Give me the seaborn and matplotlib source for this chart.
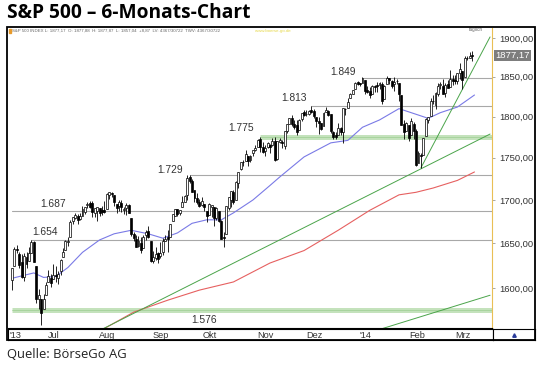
import matplotlib
matplotlib.use("Agg")
import matplotlib.pyplot as plt
from matplotlib.patches import Rectangle
from matplotlib.ticker import FixedLocator, NullLocator
import numpy as np
import pandas as pd
import seaborn as sns

# trading calendar (NYSE sessions)
first_day = "2013-06-06"
last_day = "2014-03-07"
holidays = ["2013-07-04", "2013-09-02", "2013-11-28", "2013-12-25",
            "2014-01-01", "2014-01-20", "2014-02-17"]

# daily candles
opens = [
    1609.0, 1625.0, 1644.0, 1638.0, 1629.0, 1613.0, 1635.0, 1630.0, 1639.8, 1651.8, 1624.6, 1588.6, 1588.8, 1577.5, 1592.3, 1606.4, 1611.1,
    1609.8, 1614.3, 1611.5, 1618.7, 1634.2, 1642.9, 1651.6, 1657.4, 1675.3, 1679.6, 1681.0, 1677.9, 1681.1, 1686.2, 1694.4, 1696.1, 1696.1, 1685.2, 1687.3, 1690.3, 1687.9, 1687.8,
    1689.4, 1706.1, 1708.0, 1705.8, 1695.3, 1693.4, 1696.1, 1688.4, 1690.7, 1693.9, 1679.6, 1661.2, 1655.3, 1646.8, 1650.7, 1645.0, 1659.9, 1664.3, 1652.5, 1630.3, 1633.5, 1638.9,
    1635.9, 1640.7, 1653.3, 1657.4, 1656.9, 1675.1, 1681.0, 1689.2, 1685.0, 1691.7, 1697.7, 1705.7, 1727.3, 1722.4, 1711.4, 1702.6, 1698.0, 1694.1, 1695.5, 1687.3,
    1682.4, 1691.9, 1692.4, 1678.8, 1687.1, 1676.2, 1657.0, 1660.9, 1691.1, 1699.9, 1709.2, 1700.5, 1720.2, 1736.7, 1745.2, 1746.5, 1752.3, 1747.5, 1756.0, 1759.4, 1762.8, 1772.3, 1763.2,
    1758.7, 1763.4, 1765.7, 1765.0, 1770.7, 1748.4, 1769.6, 1769.3, 1764.4, 1782.8, 1790.7, 1798.8, 1790.8, 1789.6, 1783.5, 1797.2, 1806.3, 1802.9, 1803.5, 1808.0,
    1806.6, 1800.1, 1794.1, 1792.8, 1788.4, 1806.2, 1807.5, 1802.8, 1781.7, 1778.0, 1777.5, 1786.5, 1781.5, 1809.0, 1810.4, 1822.9, 1828.0, 1835.0, 1843.0, 1841.5, 1842.6,
    1845.9, 1833.2, 1832.3, 1828.7, 1837.9, 1839.0, 1840.1, 1841.3, 1821.4, 1840.5, 1848.0, 1844.2, 1841.1, 1844.7, 1842.3, 1827.0, 1791.0, 1783.0, 1790.2, 1777.2, 1790.9,
    1782.7, 1743.8, 1753.4, 1753.0, 1776.0, 1796.2, 1800.5, 1820.1, 1814.8, 1828.5, 1839.0, 1838.2, 1829.2, 1841.1, 1836.8, 1847.7, 1845.8, 1844.9, 1855.1,
    1857.7, 1849.2, 1874.1, 1874.2, 1878.5,
]
highs = [
    1622.7, 1645.6, 1648.7, 1640.4, 1637.7, 1639.3, 1640.8, 1646.5, 1654.2, 1652.5, 1624.6, 1599.2, 1588.8, 1593.8, 1606.8, 1620.1, 1615.9,
    1626.6, 1624.3, 1618.9, 1632.1, 1644.7, 1654.2, 1657.9, 1676.6, 1680.2, 1684.5, 1683.7, 1684.8, 1693.1, 1692.1, 1697.6, 1698.4, 1698.4, 1690.9, 1691.9, 1690.9, 1693.2, 1698.4,
    1707.9, 1709.7, 1709.2, 1705.8, 1695.3, 1700.2, 1699.4, 1691.5, 1696.8, 1695.5, 1679.6, 1663.6, 1659.2, 1658.9, 1656.9, 1659.6, 1664.9, 1669.5, 1652.5, 1641.2, 1646.4, 1640.1,
    1651.4, 1655.7, 1659.2, 1664.8, 1672.4, 1684.1, 1689.1, 1689.9, 1688.7, 1704.9, 1705.5, 1729.4, 1729.9, 1725.2, 1711.4, 1707.6, 1701.7, 1703.9, 1695.5, 1687.3,
    1696.6, 1693.9, 1692.4, 1691.9, 1687.1, 1676.8, 1662.5, 1692.6, 1703.4, 1711.0, 1711.6, 1721.8, 1733.5, 1745.3, 1747.8, 1759.3, 1752.3, 1753.9, 1759.8, 1765.0, 1772.1, 1775.2, 1768.5,
    1765.7, 1768.8, 1767.0, 1773.7, 1774.5, 1770.8, 1773.4, 1771.8, 1782.0, 1791.0, 1798.2, 1802.3, 1795.5, 1795.7, 1797.2, 1804.8, 1808.1, 1808.4, 1808.8, 1813.6,
    1810.0, 1800.1, 1799.8, 1792.8, 1806.0, 1811.5, 1808.5, 1803.0, 1783.0, 1780.9, 1792.2, 1786.8, 1811.1, 1810.9, 1823.8, 1829.8, 1833.3, 1842.8, 1844.9, 1842.5, 1849.4,
    1845.9, 1838.2, 1837.2, 1840.1, 1840.0, 1843.2, 1843.8, 1843.5, 1839.3, 1850.8, 1848.0, 1846.0, 1849.3, 1846.9, 1842.3, 1827.0, 1796.0, 1793.9, 1790.2, 1798.8, 1793.9,
    1784.8, 1758.7, 1755.8, 1774.1, 1798.0, 1799.9, 1823.5, 1826.6, 1830.3, 1841.7, 1842.9, 1847.5, 1842.4, 1846.1, 1858.7, 1852.9, 1852.7, 1854.5, 1867.9,
    1857.7, 1876.2, 1876.5, 1881.9, 1883.6,
]
lows = [
    1598.2, 1625.0, 1639.3, 1622.7, 1610.9, 1608.1, 1623.0, 1630.0, 1639.8, 1628.9, 1584.3, 1577.7, 1560.3, 1577.1, 1592.3, 1606.4, 1601.1,
    1609.8, 1606.8, 1604.6, 1614.7, 1634.2, 1642.9, 1647.7, 1657.4, 1672.3, 1677.9, 1671.8, 1677.1, 1681.1, 1684.1, 1690.7, 1691.0, 1679.9, 1680.2, 1676.0, 1681.9, 1682.4, 1684.9,
    1689.4, 1700.7, 1703.6, 1693.3, 1684.9, 1687.1, 1686.0, 1683.4, 1682.6, 1684.8, 1658.6, 1652.6, 1645.8, 1646.1, 1639.4, 1645.0, 1653.6, 1656.0, 1629.1, 1627.5, 1630.9, 1628.1,
    1633.4, 1637.4, 1653.1, 1640.6, 1656.9, 1675.1, 1681.0, 1681.0, 1682.2, 1691.7, 1697.7, 1700.4, 1720.2, 1709.7, 1697.1, 1694.9, 1691.9, 1693.1, 1687.1, 1675.0,
    1682.1, 1680.3, 1670.4, 1677.3, 1674.7, 1655.0, 1646.5, 1660.9, 1688.5, 1692.1, 1695.5, 1700.5, 1714.1, 1735.7, 1740.6, 1746.5, 1740.5, 1745.5, 1752.5, 1757.7, 1762.8, 1757.2, 1755.7,
    1752.7, 1761.6, 1755.8, 1764.4, 1746.2, 1747.6, 1767.9, 1762.3, 1760.6, 1780.2, 1790.7, 1788.4, 1784.7, 1777.2, 1783.5, 1794.7, 1800.6, 1800.8, 1802.6, 1804.0,
    1798.6, 1787.9, 1779.1, 1783.4, 1788.4, 1806.2, 1801.4, 1780.1, 1772.3, 1772.4, 1777.5, 1777.1, 1768.0, 1801.7, 1810.4, 1822.9, 1828.0, 1835.0, 1839.8, 1838.8, 1842.4,
    1827.7, 1829.1, 1823.7, 1828.7, 1831.4, 1830.4, 1834.6, 1815.5, 1821.4, 1840.5, 1840.3, 1835.2, 1832.4, 1840.9, 1820.1, 1790.3, 1772.9, 1783.0, 1770.5, 1777.2, 1772.3,
    1739.7, 1743.8, 1737.9, 1753.0, 1776.0, 1791.8, 1800.4, 1816.0, 1809.2, 1825.9, 1835.0, 1828.0, 1824.9, 1835.6, 1836.8, 1840.2, 1840.7, 1841.1, 1847.7,
    1834.4, 1849.2, 1871.4, 1874.2, 1870.6,
]
closes = [
    1622.6, 1643.4, 1642.8, 1626.1, 1612.5, 1636.4, 1626.7, 1639.0, 1651.8, 1628.9, 1588.2, 1592.4, 1573.1, 1588.0, 1603.3, 1613.2, 1606.3,
    1615.0, 1614.1, 1615.4, 1631.9, 1640.5, 1652.3, 1652.6, 1675.0, 1680.2, 1682.5, 1676.3, 1680.9, 1689.4, 1692.1, 1695.5, 1692.4, 1685.9, 1690.3, 1691.7, 1685.3, 1686.0, 1685.7,
    1706.9, 1709.7, 1707.1, 1697.4, 1690.9, 1697.5, 1691.4, 1689.5, 1694.2, 1685.4, 1661.3, 1655.8, 1646.1, 1652.4, 1642.8, 1657.0, 1663.5, 1656.8, 1630.5, 1635.0, 1638.2, 1633.0,
    1639.8, 1653.1, 1655.1, 1655.2, 1671.7, 1684.0, 1689.1, 1683.4, 1688.0, 1697.6, 1704.8, 1725.5, 1722.3, 1709.9, 1701.8, 1697.4, 1692.8, 1698.7, 1691.8, 1681.6,
    1695.0, 1693.9, 1678.7, 1690.5, 1676.1, 1655.5, 1656.4, 1692.6, 1703.2, 1710.1, 1698.1, 1721.5, 1733.2, 1744.5, 1744.7, 1754.7, 1746.4, 1752.1, 1759.8, 1762.1, 1772.0, 1763.3, 1756.5,
    1761.6, 1767.9, 1763.0, 1770.5, 1747.2, 1770.6, 1771.9, 1767.7, 1782.0, 1790.6, 1798.2, 1791.5, 1787.9, 1781.4, 1795.9, 1804.8, 1802.5, 1802.8, 1807.2, 1805.8,
    1800.9, 1795.2, 1792.8, 1785.0, 1805.1, 1808.4, 1802.6, 1782.2, 1775.5, 1775.3, 1786.5, 1781.0, 1810.7, 1809.6, 1818.3, 1828.0, 1833.3, 1842.0, 1841.4, 1841.1, 1848.4,
    1832.0, 1831.4, 1826.8, 1837.9, 1837.5, 1838.1, 1842.4, 1819.2, 1838.9, 1848.4, 1845.9, 1838.7, 1843.8, 1844.9, 1828.5, 1790.3, 1781.6, 1792.5, 1774.2, 1794.2, 1782.6,
    1741.9, 1755.2, 1751.6, 1773.4, 1797.0, 1799.8, 1819.8, 1819.3, 1829.8, 1838.6, 1840.8, 1828.8, 1839.8, 1836.3, 1847.6, 1845.1, 1845.2, 1854.3, 1859.5,
    1845.7, 1873.9, 1873.8, 1877.0, 1877.17,
]

# moving averages (session number, value)
blue_ma_session = [0, 9, 13, 18, 23, 29, 36, 42, 49, 56, 62, 68, 74, 80, 86, 91, 99, 106, 110, 120, 131, 138, 144, 151, 159, 164, 171, 176, 183, 190]
blue_ma_value = [1611, 1617, 1612, 1613, 1623, 1640, 1654, 1661, 1665, 1661, 1656, 1662, 1673, 1677, 1677, 1685, 1700, 1717, 1727, 1751, 1768, 1771, 1787, 1796, 1810, 1805, 1798, 1805, 1812, 1827]
red_ma_session = [37, 50, 64, 77, 91, 106, 120, 134, 147, 159, 166, 173, 183, 190]
red_ma_value = [1555, 1574, 1587, 1598, 1607, 1628, 1642, 1665, 1688, 1706, 1709, 1714, 1723, 1733]

# trend lines (start session, start value, end session, end value)
trend_lines = [
    (37.0, 1555.6, 196.4, 1778.7),
    (168.0, 1737.9, 196.4, 1901.3),
    (151.2, 1555.6, 196.4, 1592.4),
]

# support / resistance levels and the session they start from
levels = [1849, 1813, 1775, 1729, 1687, 1654, 1576]
level_start = ["2013-12-31", "2013-11-29", "2013-10-30", "2013-09-19",
               "2013-06-06", "2013-06-18", "2013-06-06"]
green_levels = [1775, 1576]

month_names = {2: "Feb", 3: "Mrz", 4: "Apr", 5: "Mai", 6: "Jun", 7: "Jul",
               8: "Aug", 9: "Sep", 10: "Okt", 11: "Nov", 12: "Dez"}
price_ticks = [1600, 1650, 1700, 1750, 1800, 1850, 1900]

W, H = 540, 367


def box(x0, y0, x1, y1):
    return [x0 / W, 1 - y1 / H, (x1 - x0) / W, (y1 - y0) / H]


sns.set_theme(style="white")
plt.rcParams["font.family"] = ["Liberation Sans", "DejaVu Sans"]

dates = pd.bdate_range(first_day, last_day)
dates = dates[~dates.isin(pd.to_datetime(holidays))]
n = len(dates)
candles = pd.DataFrame({"session": np.arange(n), "open": opens[:n], "high": highs[:n],
                        "low": lows[:n], "close": closes[:n]})
session_of = {d.strftime("%Y-%m-%d"): i for i, d in enumerate(dates)}

fig = plt.figure(figsize=(W / 100, H / 100), dpi=100)
ax = fig.add_axes(box(8, 28, 492, 328))
ax.set_yscale("log")
ax.set_xlim(-1.6, 197.2)
ax.set_ylim(1557, 1913)

# levels
for lvl, start in zip(levels, level_start):
    s = session_of[start]
    if lvl in green_levels:
        ax.plot([s, 197.2], [lvl, lvl], color="#c4e2bc", lw=3.6, zorder=1, solid_capstyle="butt")
        ax.plot([s, 197.2], [lvl, lvl], color="#9ccf92", lw=0.5, zorder=1)
    else:
        ax.plot([s, 197.2], [lvl, lvl], color="#a8a8a8", lw=0.8, zorder=1)

# level labels
label_anchor = {1849: (136, 6), 1813: (116, 8), 1775: (94, 9), 1729: (65, 5),
                1687: (17, 7), 1654: (13.5, 8), 1576: (79, -10)}
for lvl in levels:
    sx, dy = label_anchor[lvl]
    ax.annotate(f"{lvl / 1000:.3f}", xy=(sx, lvl), xytext=(0, dy * 0.72),
                textcoords="offset points", ha="center", va="center",
                fontsize=7.4, color="#333333", zorder=5)

# moving averages and trend lines
blue_df = pd.DataFrame({"session": blue_ma_session, "value": blue_ma_value})
red_df = pd.DataFrame({"session": red_ma_session, "value": red_ma_value})
sns.lineplot(data=blue_df, x="session", y="value", ax=ax, color="#7a7ae6", lw=0.8, zorder=2)
sns.lineplot(data=red_df, x="session", y="value", ax=ax, color="#e66060", lw=0.8, zorder=2)
for x0, y0, x1, y1 in trend_lines:
    tl = pd.DataFrame({"session": [x0, x1], "value": [y0, y1]})
    sns.lineplot(data=tl, x="session", y="value", ax=ax, color="#4aa44a", lw=0.7, zorder=2)

# candles
up = candles["close"] >= candles["open"]
ax.vlines(candles["session"], candles["low"], candles["high"], color="black", lw=0.6, zorder=3)
body_lo = np.minimum(candles["open"], candles["close"])
body_h = np.maximum((candles["close"] - candles["open"]).abs(), 0.4)
ax.bar(candles["session"][up], body_h[up], bottom=body_lo[up], width=0.8,
       color="white", edgecolor="black", lw=0.5, zorder=4)
ax.bar(candles["session"][~up], body_h[~up], bottom=body_lo[~up], width=0.8,
       color="black", edgecolor="black", lw=0.5, zorder=4)

ax.set_xlabel("")
ax.set_ylabel("")
ax.set_xticks([])
ax.yaxis.tick_right()
ax.yaxis.set_major_locator(FixedLocator(price_ticks))
ax.yaxis.set_minor_locator(NullLocator())
ax.set_yticklabels([f"{p:.2f}".replace(".", ",") for p in price_ticks])
ax.tick_params(axis="y", which="major", right=True, length=2.5, width=0.6,
               color="#999999", pad=3, labelsize=6.8, labelcolor="#333333")
for side in ["top", "left"]:
    ax.spines[side].set_visible(False)
ax.spines["right"].set_color("#e9bf55")
ax.spines["right"].set_linestyle((0, (1, 1)))
ax.spines["right"].set_linewidth(0.8)
ax.spines["bottom"].set_color("black")
ax.spines["bottom"].set_linewidth(0.8)

# last price box
last = closes[-1]
ax.annotate(f"{last:.2f}".replace(".", ","), xy=(1, last), xycoords=ax.get_yaxis_transform(),
            xytext=(2.5, 0), textcoords="offset points", ha="left", va="center",
            fontsize=6.8, color="white",
            bbox=dict(boxstyle="square,pad=0.12", fc="#7d7d7d", ec="none"), zorder=6)

# header inside the chart frame
fig.patches.append(Rectangle((8.5 / W, 1 - 33 / H), 2 / W, 4 / H, transform=fig.transFigure,
                             color="#e89a2a", zorder=5))
fig.text(12 / W, 1 - 31 / H,
         "S&P 500 INDEX L: 1877,17  O: 1877,88  H: 1877,87  L: 1857,04  +8,87  LV: 4367/30722  TWV: 4367/30722",
         fontsize=3.2, color="#666666", va="center")
fig.text(255 / W, 1 - 31 / H, "www.boerse-go.de", fontsize=3.2, color="#e6d84a", va="center")
fig.text(476 / W, 1 - 30 / H, "täglich", fontsize=3.4, color="#666666", va="center", ha="center")

# month strip
strip = fig.add_axes(box(8, 329, 493, 340))
strip.set_xlim(ax.get_xlim())
strip.set_ylim(0, 1)
strip.set_xticks([])
strip.set_yticks([])
for sp in strip.spines.values():
    sp.set_color("black")
    sp.set_linewidth(0.8)
for i in range(n):
    if i > 0 and dates[i].month == dates[i - 1].month:
        continue
    d = dates[i]
    txt = "'" + d.strftime("%y") if (i == 0 or d.month == 1) else month_names[d.month]
    if i == 0:
        strip.text(ax.get_xlim()[0] + 0.5, 0.45, txt, ha="left", va="center", fontsize=6.6, color="#333333")
    else:
        strip.text(i, 0.45, txt, ha="center", va="center", fontsize=6.6, color="#333333")

corner = fig.add_axes(box(493, 329, 535, 340))
corner.set_xlim(0, 1)
corner.set_ylim(0, 1)
corner.set_xticks([])
corner.set_yticks([])
corner.plot([0.5], [0.5], marker="^", ms=2.5, color="#2a3c9a")
for sp in corner.spines.values():
    sp.set_color("black")
    sp.set_linewidth(0.8)

# outer frame
fig.patches.append(Rectangle((7 / W, 1 - 340 / H), 528 / W, 313 / H, transform=fig.transFigure,
                             fill=False, ec="black", lw=1.3, zorder=10))

fig.text(7 / W, 1 - 13 / H, "S&P 500 – 6-Monats-Chart", fontsize=13.8, fontweight="bold",
         family=["Open Sans", "DejaVu Sans"], va="center", ha="left", color="black")
fig.text(7 / W, 1 - 355 / H, "Quelle: BörseGo AG", fontsize=9.4, family=["Open Sans", "DejaVu Sans"],
         va="center", ha="left", color="#222222")

fig.savefig("out.png", dpi=100)
